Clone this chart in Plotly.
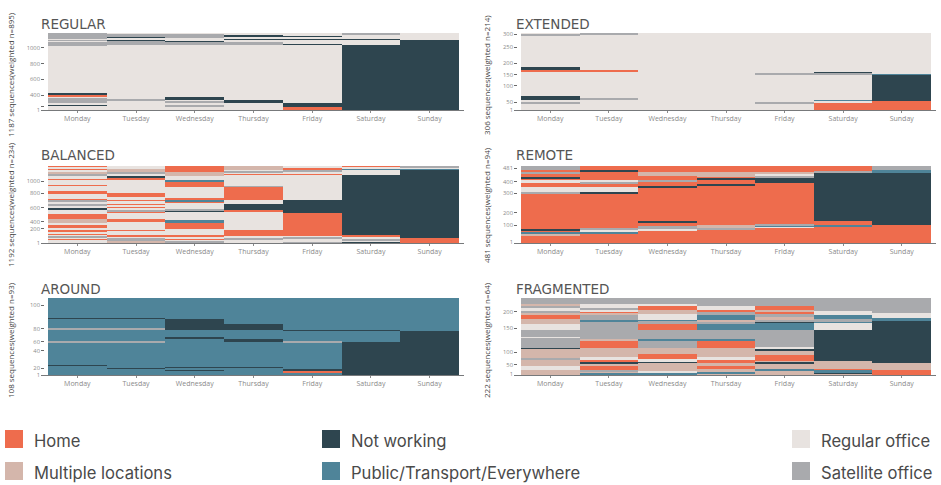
import plotly.graph_objects as go

W, H = 941, 485
days = ["Monday", "Tuesday", "Wednesday", "Thursday", "Friday", "Saturday", "Sunday"]
state_names = {"H": "Home", "M": "Multiple locations", "N": "Not working",
               "P": "Public/Transport/Everywhere", "R": "Regular office", "S": "Satellite office"}
state_colors = {"H": "#EE6C4D", "M": "#D4B6AB", "N": "#2E454F",
                "P": "#4F8499", "R": "#E8E3E0", "S": "#A9AAAD"}

# Each list: (state, upper sequence index) from the bottom of the column up
regular_mon = [("R",66),("N",77),("R",118),("S",138),("R",153),("S",179),("R",194),("H",235),("N",261),("R",998),("S",1013),("R",1028),("S",1039),("R",1049),("H",1064),("R",1069),("S",1079),("R",1095),("S",1120),("R",1136),("S",1156),("N",1161),("S",1177),("H",1187)]
regular_tue = [("R",143),("S",159),("H",174),("R",998),("S",1059),("N",1074),("R",1110),("N",1126),("S",1166),("R",1187)]
regular_wed = [("R",41),("N",61),("S",82),("R",123),("S",138),("R",153),("N",194),("R",998),("S",1049),("N",1059),("R",1110),("S",1126),("N",1146),("S",1177),("R",1187)]
regular_thu = [("R",113),("N",153),("R",998),("S",1044),("N",1049),("R",1085),("N",1105),("R",1126),("N",1151),("R",1187)]
regular_fri = [("H",41),("N",107),("R",998),("N",1023),("R",1085),("N",1100),("R",1115),("N",1136),("R",1187)]
regular_sat = [("H",5),("N",998),("R",1074),("N",1090),("R",1166),("S",1177),("R",1187)]
regular_sun = [("N",1074),("R",1187)]
regular_ticks = [1, 51, 230, 476, 716, 957]
regular_labels = ["1", "", "400", "600", "800", "1000"]

extended_mon = [("R",24),("S",28),("R",40),("N",56),("R",153),("H",162),("N",169),("R",295),("S",299),("H",303),("R",306)]
extended_tue = [("R",43),("S",47),("R",153),("H",157),("R",300),("S",304),("R",306)]
extended_wed = [("R",306)]
extended_thu = [("R",306)]
extended_fri = [("R",27),("S",31),("R",141),("S",145),("R",306)]
extended_sat = [("H",27),("R",37),("P",41),("R",140),("S",144),("N",153),("R",306)]
extended_sun = [("H",37),("N",140),("P",144),("R",306)]
extended_ticks = [1, 31, 97, 141, 185, 250, 302]
extended_labels = ["1", "50", "100", "150", "200", "250", "300"]

balanced_mon = [("R",41),("H",62),("R",83),("S",103),("R",119),("H",144),("R",165),("H",206),("R",237),("H",273),("R",310),("M",372),("H",464),("R",480),("H",495),("R",516),("N",531),("H",547),("R",568),("S",609),("R",630),("H",650),("S",671),("H",686),("R",764),("H",805),("R",888),("H",903),("R",980),("H",1006),("R",1032),("S",1073),("M",1094),("R",1125),("H",1146),("R",1176),("H",1192)]
balanced_tue = [("M",26),("H",36),("S",77),("R",93),("H",124),("R",144),("H",165),("R",186),("H",206),("R",330),("H",372),("R",464),("H",480),("R",495),("S",516),("R",537),("H",557),("R",588),("H",609),("R",645),("H",660),("R",712),("H",769),("R",877),("H",888),("R",970),("H",1011),("N",1032),("R",1063),("S",1094),("M",1146),("R",1192)]
balanced_wed = [("S",21),("R",41),("H",67),("R",93),("H",129),("R",212),("H",325),("P",351),("R",485),("N",501),("S",521),("N",531),("R",619),("H",650),("P",671),("H",702),("R",867),("H",944),("P",980),("R",1032),("M",1094),("H",1192)]
balanced_thu = [("H",15),("R",41),("S",72),("R",103),("H",206),("R",475),("H",516),("N",599),("R",660),("H",867),("S",877),("R",1047),("H",1078),("R",1094),("S",1104),("R",1125),("M",1192)]
balanced_fri = [("S",15),("R",62),("S",93),("R",108),("H",470),("N",660),("R",1047),("H",1073),("R",1104),("S",1125),("H",1161),("R",1192)]
balanced_sat = [("N",10),("H",26),("R",41),("S",67),("R",93),("H",119),("N",1047),("R",1125),("P",1156),("R",1166),("H",1192)]
balanced_sun = [("H",77),("N",1125),("P",1156),("R",1176),("S",1192)]
balanced_ticks = [1, 222, 330, 542, 769, 955]
balanced_labels = ["1", "200", "400", "600", "800", "1000"]

remote_mon = [("H",48),("M",52),("H",56),("P",69),("H",79),("N",89),("H",308),("S",314),("R",347),("H",381),("R",393),("H",404),("N",408),("H",433),("S",439),("H",458),("S",481)]
remote_tue = [("H",62),("P",69),("R",79),("S",96),("H",312),("N",318),("R",347),("H",370),("S",376),("H",387),("R",393),("H",447),("N",453),("H",481)]
remote_wed = [("H",79),("R",87),("S",104),("H",131),("N",135),("H",349),("N",358),("H",385),("S",391),("H",416),("M",445),("H",481)]
remote_thu = [("H",83),("R",87),("S",92),("M",112),("H",358),("N",366),("H",391),("N",406),("H",414),("M",445),("H",481)]
remote_fri = [("H",94),("R",98),("P",110),("S",114),("H",374),("N",410),("S",416),("R",433),("M",439),("H",481)]
remote_sat = [("H",100),("P",110),("H",135),("N",439),("S",447),("H",481)]
remote_sun = [("H",110),("N",443),("P",453),("S",481)]
remote_ticks = [4, 110, 189, 310, 383, 468]
remote_labels = ["1", "100", "200", "300", "400", "481"]

around_mon = [("P",2),("H",3.4),("P",12),("N",13.4),("P",46),("S",47.4),("P",63),("N",64.4),("S",65.8),("P",79),("N",80.4),("P",108)]
around_tue = [("P",9),("N",10.4),("P",46),("S",47.4),("P",64),("S",65.4),("P",79),("N",80.4),("P",108)]
around_wed = [("P",5.2),("N",6.6),("P",10),("N",11.4),("P",51),("N",52.8),("P",63),("N",78.5),("P",108)]
around_thu = [("P",9.6),("N",11),("P",46.3),("N",51),("P",63),("N",72),("P",108)]
around_fri = [("P",1.9),("H",5.6),("N",8.4),("P",45.8),("S",47.2),("P",62.4),("N",63.8),("P",108)]
around_sat = [("N",1.9),("H",3.3),("N",46.8),("P",62.4),("N",63.8),("P",108)]
around_sun = [("N",61.7),("P",108)]
around_ticks = [0.6, 9.4, 34, 47, 65, 98]
around_labels = ["1", "20", "40", "60", "80", "100"]

fragmented_mon = [("M",13),("R",25),("M",44),("S",48),("M",75),("N",77),("S",107),("R",109),("S",129),("R",148),("M",161),("H",174),("M",179),("S",185),("R",192),("S",198),("M",206),("S",222)]
fragmented_tue = [("P",4),("M",8),("S",15),("H",25),("M",32),("N",35),("H",42),("R",52),("M",78),("H",98),("M",104),("S",154),("P",158),("S",174),("M",179),("H",183),("R",188),("S",192),("R",206),("S",222)]
fragmented_wed = [("P",3),("M",6),("R",11),("M",35),("N",38),("R",46),("H",60),("M",78),("S",98),("P",104),("S",131),("H",147),("S",157),("P",159),("R",176),("M",188),("H",198),("R",205),("S",222)]
fragmented_thu = [("M",3),("P",8),("M",18),("H",25),("M",35),("H",44),("R",52),("M",79),("H",98),("P",104),("S",131),("P",147),("S",154),("M",160),("P",174),("S",183),("H",186),("R",198),("S",222)]
fragmented_fri = [("M",13),("P",16),("M",32),("N",35),("M",38),("H",59),("M",70),("N",76),("R",81),("S",129),("P",150),("N",153),("S",159),("M",168),("S",177),("H",183),("M",185),("H",199),("S",222)]
fragmented_sat = [("M",3),("N",8),("P",13),("H",18),("M",39),("N",129),("R",150),("P",154),("S",161),("P",174),("R",184),("S",222)]
fragmented_sun = [("H",15),("M",35),("N",155),("P",163),("R",179),("S",222)]
fragmented_ticks = [2, 30, 65, 135, 183]
fragmented_labels = ["1", "50", "100", "150", "200"]

panel_titles = ["REGULAR", "EXTENDED", "BALANCED", "REMOTE", "AROUND", "FRAGMENTED"]
panel_totals = [1187, 306, 1192, 481, 108, 222]
panel_ylabels = ["1187 sequences(weighted n=895)", "306 sequences(weighted n=214)",
                 "1192 sequences(weighted n=234)", "481 sequences(weighted n=94)",
                 "108 sequences(weighted n=93)", "222 sequences(weighted n=64)"]
panel_columns = [
    [regular_mon, regular_tue, regular_wed, regular_thu, regular_fri, regular_sat, regular_sun],
    [extended_mon, extended_tue, extended_wed, extended_thu, extended_fri, extended_sat, extended_sun],
    [balanced_mon, balanced_tue, balanced_wed, balanced_thu, balanced_fri, balanced_sat, balanced_sun],
    [remote_mon, remote_tue, remote_wed, remote_thu, remote_fri, remote_sat, remote_sun],
    [around_mon, around_tue, around_wed, around_thu, around_fri, around_sat, around_sun],
    [fragmented_mon, fragmented_tue, fragmented_wed, fragmented_thu, fragmented_fri, fragmented_sat, fragmented_sun],
]
panel_ticks = [(regular_ticks, regular_labels), (extended_ticks, extended_labels),
               (balanced_ticks, balanced_labels), (remote_ticks, remote_labels),
               (around_ticks, around_labels), (fragmented_ticks, fragmented_labels)]

# Layout in pixels
col_px = [(41, 464), (514, 936)]
row_px = [(33, 110), (166, 243), (298, 375)]
title_y = [24, 155, 289]
title_x = [39, 514]
ylabel_x = [10, 486]
ylabel_cy = [75, 205, 340]
legend_col_x = [5, 322, 792]
legend_row_y = [430, 462]
legend_grid = [["H", "M"], ["N", "P"], ["R", "S"]]

fig = go.Figure()
annotations, shapes = [], []
layout_axes = {}
TICK = "#8a8a8a"

def px(x):
    return x / W

def py(y):
    return 1 - y / H

for i, columns in enumerate(panel_columns):
    n = "" if i == 0 else str(i + 1)
    r, c = i // 2, i % 2
    for code, color in state_colors.items():
        xs, ys, bases = [], [], []
        for day, col in zip(days, columns):
            prev = 0
            for state, top in col:
                if state == code:
                    xs.append(day); ys.append(top - prev); bases.append(prev)
                prev = top
        if xs:
            fig.add_trace(go.Bar(x=xs, y=ys, base=bases, width=1, name=state_names[code],
                                 marker=dict(color=color, line=dict(width=0)),
                                 xaxis="x" + n, yaxis="y" + n, showlegend=False,
                                 hoverinfo="name+x"))
    tv, tt = panel_ticks[i]
    layout_axes["xaxis" + n] = dict(
        domain=[px(col_px[c][0]), px(col_px[c][1])], anchor="y" + n, type="category",
        categoryorder="array", categoryarray=days, range=[-0.619, 6.585],
        showgrid=False, zeroline=False, showline=True, linecolor="#77797b", linewidth=1,
        ticks="outside", ticklen=2, tickcolor=TICK, automargin=False,
        tickfont=dict(family="Open Sans", size=7, color="#8a8a8a"))
    layout_axes["yaxis" + n] = dict(
        domain=[py(row_px[r][1]), py(row_px[r][0])], anchor="x" + n,
        range=[0, panel_totals[i]], showgrid=False, zeroline=False, showline=False,
        tickmode="array", tickvals=tv, ticktext=tt, automargin=False,
        ticks="inside", ticklen=3, tickcolor="#6a6a6a",
        tickfont=dict(family="Open Sans", size=5.8, color="#8a8a8a"))
    annotations.append(dict(text=panel_titles[i], xref="paper", yref="paper",
                            x=px(title_x[c]), y=py(title_y[r]), xanchor="left", yanchor="middle",
                            showarrow=False, font=dict(family="DejaVu Sans", size=13.5, color="#555555")))
    annotations.append(dict(text=panel_ylabels[i], xref="paper", yref="paper",
                            x=px(ylabel_x[c]), y=py(ylabel_cy[r]), xanchor="center", yanchor="middle",
                            textangle=-90, showarrow=False,
                            font=dict(family="Open Sans", size=8, color="#444444")))

for cx, col in zip(legend_col_x, legend_grid):
    for ry, code in zip(legend_row_y, col):
        shapes.append(dict(type="rect", xref="paper", yref="paper", x0=px(cx), x1=px(cx + 18),
                           y0=py(ry + 18), y1=py(ry), fillcolor=state_colors[code], line=dict(width=0)))
        annotations.append(dict(text=state_names[code], xref="paper", yref="paper",
                                x=px(cx + 27), y=py(ry + 11), xanchor="left", yanchor="middle",
                                showarrow=False, font=dict(family="Inter", size=16.6, color="#4a4a4a")))

fig.update_layout(width=W, height=H, margin=dict(l=0, r=0, t=0, b=0, autoexpand=False), barmode="overlay",
                  bargap=0, paper_bgcolor="white", plot_bgcolor="white",
                  showlegend=False, annotations=annotations, shapes=shapes, **layout_axes)
fig.write_html("out.html", config=dict(displayModeBar=False),
               post_script="document.body.style.margin='0';")
